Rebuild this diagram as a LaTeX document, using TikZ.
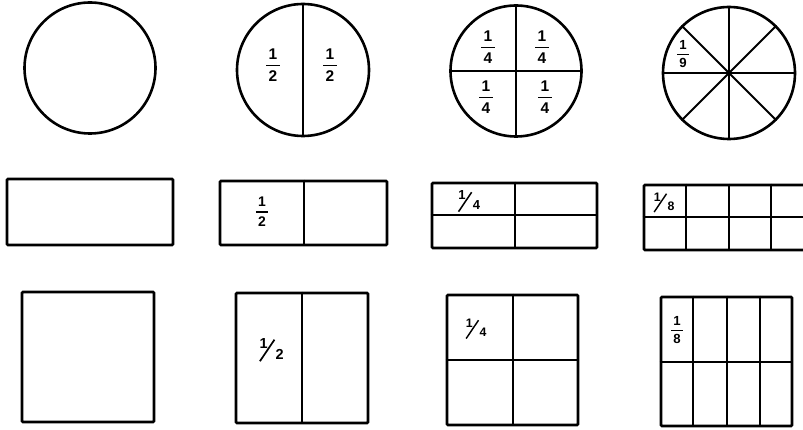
\documentclass[tikz,border=0pt]{standalone}
\usepackage{amsmath}
\usepackage{fontspec}
\setmainfont{Liberation Sans}
\usetikzlibrary{calc}

\newcommand{\stfr}[2]{$\genfrac{}{}{1.4pt}{0}{\text{\kern2.5pt#1\kern2.5pt}}{\text{\kern2.5pt#2\kern2.5pt}}$}
\newcommand{\slfr}[2]{\rlap{\kern0.5pt\raisebox{11pt}{\fontsize{14.5}{15}\selectfont #1}}\raisebox{-2.5pt}{\rotatebox{56}{\rule{26pt}{1.7pt}}}\kern0.6pt{\fontsize{14.5}{15}\selectfont #2}}

\begin{document}
\begin{tikzpicture}[
            x=1pt, y=-1pt,
            disc/.style={draw, circle, line width=2.6pt, minimum size=131pt, inner sep=0pt},
            box/.style={draw, line width=2.6pt, rounded corners=1pt, inner sep=0pt},
            div/.style={line width=2pt},
            lbl/.style={font=\fontsize{15.5}{18}\selectfont\bfseries, inner sep=0pt}
        ]
            \clip (0,0) rectangle (803,430);
            \fill[white] (0,0) rectangle (803,430);

            \node[disc] (c1) at (90,68) {};
            \node[disc, minimum size=132pt] (c2) at (303,70) {};
            \node[disc] (c3) at (516,71) {};
            \node[disc, minimum size=132pt] (c4) at (729,73) {};

            \node[box, minimum width=166pt, minimum height=66pt] (r1) at (90,212) {};
            \node[box, minimum width=167pt, minimum height=64pt] (r2) at (303.5,213) {};
            \node[box, minimum width=165pt, minimum height=65pt] (r3) at (514.5,215.5) {};
            \node[box, minimum width=169pt, minimum height=65pt] (r4) at (728.5,217.5) {};

            \node[box, minimum width=132pt, minimum height=130pt] (s1) at (88,357) {};
            \node[box, minimum width=132pt, minimum height=130pt] (s2) at (302,358) {};
            \node[box, minimum width=131pt, minimum height=130pt] (s3) at (512.5,360) {};
            \node[box, minimum width=131pt, minimum height=129pt] (s4) at (726.5,361.5) {};

            \draw[div] (c2.north) -- (c2.south);
            \draw[div] (c3.north) -- (c3.south);
            \draw[div] (c3.west) -- (c3.east);
            \foreach \a/\b in {0/180, 45/225, 90/270, 135/315}
                \draw[div] (c4.\a) -- (c4.\b);

            \draw[div] (r2.north) -- (r2.south);
            \draw[div] (r3.north) -- (r3.south);
            \draw[div] (r3.west) -- (r3.east);
            \draw[div] (r4.west) -- (r4.east);
            \foreach \f in {0.25, 0.5, 0.75}
                \draw[div] ($(r4.north west)!\f!(r4.north east)$) -- ($(r4.south west)!\f!(r4.south east)$);

            \draw[div] (s2.north) -- (s2.south);
            \draw[div] (s3.north) -- (s3.south);
            \draw[div] (s3.west) -- (s3.east);
            \draw[div] (s4.west) -- (s4.east);
            \foreach \f in {0.25, 0.5, 0.75}
                \draw[div] ($(s4.north west)!\f!(s4.north east)$) -- ($(s4.south west)!\f!(s4.south east)$);

            \node[lbl] (c2a) at (273,65) {\stfr{1}{2}};
            \node[lbl] (c2b) at (330,65) {\stfr{1}{2}};
            \node[lbl] (c3a) at (488,47) {\stfr{1}{4}};
            \node[lbl] (c3b) at (542,47) {\stfr{1}{4}};
            \node[lbl] (c3c) at (486,97) {\stfr{1}{4}};
            \node[lbl] (c3d) at (545,97) {\stfr{1}{4}};
            \node[lbl, scale=0.85] (c4a) at (683,54) {\stfr{1}{9}};

            \node[lbl, scale=0.9] (r2a) at (262,211.5) {\stfr{1}{2}};
            \node[lbl, scale=0.9] (r3a) at (469,201.5) {\slfr{1}{4}};
            \node[lbl, scale=0.85] (r4a) at (664,202.5) {\slfr{1}{8}};

            \node[lbl, scale=1.0] (s2a) at (271.5,350) {\slfr{1}{2}};
            \node[lbl, scale=0.85] (s3a) at (476,329) {\slfr{1}{4}};
            \node[lbl, scale=0.85] (s4a) at (677,330) {\stfr{1}{8}};
        \end{tikzpicture}
\end{document}
